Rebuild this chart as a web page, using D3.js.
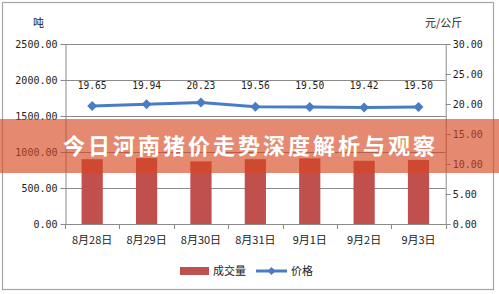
<!DOCTYPE html>
<html><head><meta charset="utf-8">
<script src="https://cdn.jsdelivr.net/npm/d3@7"></script>
<style>body{margin:0;background:#fff}svg{display:block}</style>
</head><body>
<svg id="c" width="499" height="294"></svg>
<script>
const categories = ["8月28日","8月29日","8月30日","8月31日","9月1日","9月2日","9月3日"];
const volume = [900, 915, 870, 900, 912, 878, 890];
const price = [19.65, 19.94, 20.23, 19.56, 19.50, 19.42, 19.50];
const leftTicks = [0, 500, 1000, 1500, 2000, 2500];
const rightTicks = [0, 5, 10, 15, 20, 25, 30];
const seriesNames = ["成交量", "价格"];
const unitLeft = "吨", unitRight = "元/公斤";
const bannerText = "今日河南猪价走势深度解析与观察";

const svg = d3.select("#c");
const L = 65, R = 445.7, T = 44, B = 224;
const numFont = "'DejaVu Sans Mono', monospace";
const cjkFont = "'Noto Sans CJK SC', sans-serif";
const gray = "#8a8a8a";

svg.append("rect").attr("x",2.5).attr("y",2.5).attr("width",491).attr("height",287)
  .attr("fill","#fff").attr("stroke","#a6a6a6").attr("stroke-width",1.2);

const x = d3.scaleBand().domain(categories).range([L,R]).padding(0);
const yL = d3.scaleLinear().domain([0,2500]).range([B,T]);
const yR = d3.scaleLinear().domain([0,30]).range([B,T]);

// gridlines
svg.append("g").selectAll("line").data(leftTicks).join("line")
  .attr("x1",L).attr("x2",R).attr("y1",d=>yL(d)+0.5).attr("y2",d=>yL(d)+0.5)
  .attr("stroke",gray).attr("stroke-width",1);

// bars
const bw = x.bandwidth()*0.39;
svg.append("g").selectAll("rect").data(volume).join("rect")
  .attr("x",(d,i)=>x(categories[i])+x.bandwidth()/2-bw/2)
  .attr("width",bw).attr("y",d=>yL(d)).attr("height",d=>B-yL(d))
  .attr("fill","#c0504d");

// left axis
const axL = svg.append("g").attr("transform",`translate(${L+0.5},0)`)
  .call(d3.axisLeft(yL).tickValues(leftTicks).tickFormat(d3.format(".2f")).tickSize(5).tickSizeOuter(0).tickPadding(3));
axR = svg.append("g").attr("transform",`translate(${R},0)`)
  .call(d3.axisRight(yR).tickValues(rightTicks).tickFormat(d3.format(".2f")).tickSize(5).tickSizeOuter(0).tickPadding(2));
[axL, axR].forEach(a=>{
  a.selectAll("path,line").attr("stroke",gray);
  a.selectAll("text").attr("font-family",numFont).attr("font-size","10px").attr("fill","#222");
});

// x axis
const gx = svg.append("g");
gx.append("line").attr("x1",L).attr("x2",R).attr("y1",B+0.5).attr("y2",B+0.5).attr("stroke",gray);
const bounds = categories.map(c=>x(c)).concat([R]);
gx.selectAll("line.t").data(bounds).join("line").attr("class","t")
  .attr("x1",d=>Math.round(d)+0.5).attr("x2",d=>Math.round(d)+0.5).attr("y1",B).attr("y2",B+5).attr("stroke",gray);
gx.selectAll("text").data(categories).join("text")
  .attr("x",d=>x(d)+x.bandwidth()/2).attr("y",243.5).attr("text-anchor","middle")
  .attr("font-family",cjkFont).attr("font-size","11px").attr("fill","#222").text(d=>d);

// price line
const cx = (d,i)=>x(categories[i])+x.bandwidth()/2;
svg.append("path").datum(price)
  .attr("d",d3.line().x(cx).y(d=>yR(d)))
  .attr("fill","none").attr("stroke","#4a7cc4").attr("stroke-width",3);
svg.append("g").selectAll("path").data(price).join("path")
  .attr("d","M0,-5L5,0L0,5L-5,0Z")
  .attr("transform",(d,i)=>`translate(${cx(d,i)},${yR(d)})`).attr("fill","#4a7cc4");
svg.append("g").selectAll("text").data(price).join("text")
  .attr("x",cx).attr("y",d=>89).attr("text-anchor","middle")
  .attr("font-family",numFont).attr("font-size","9.6px").attr("fill","#222")
  .text(d=>d.toFixed(2));

// units
svg.append("text").attr("x",33).attr("y",26.5).attr("font-family",cjkFont).attr("font-size","11px").attr("fill","#222").text(unitLeft);
svg.append("text").attr("x",425).attr("y",26.5).attr("font-family",cjkFont).attr("font-size","11px").attr("fill","#222").text(unitRight);

// legend
const lg = svg.append("g");
lg.append("rect").attr("x",180).attr("y",267).attr("width",29).attr("height",8).attr("fill","#c0504d");
lg.append("text").attr("x",213).attr("y",275).attr("font-family",cjkFont).attr("font-size","11px").attr("fill","#222").text(seriesNames[0]);
lg.append("line").attr("x1",256).attr("x2",287).attr("y1",271).attr("y2",271).attr("stroke","#4a7cc4").attr("stroke-width",3);
lg.append("path").attr("d","M0,-4L4,0L0,4L-4,0Z").attr("transform","translate(271.5,271)").attr("fill","#4a7cc4");
lg.append("text").attr("x",291).attr("y",275).attr("font-family",cjkFont).attr("font-size","11px").attr("fill","#222").text(seriesNames[1]);

// banner overlay
svg.append("rect").attr("x",0).attr("y",119).attr("width",499).attr("height",54)
  .attr("fill","rgb(214,69,30)").attr("fill-opacity",0.63);
svg.append("text").attr("x",63).attr("y",154).attr("textLength",372).attr("lengthAdjust","spacing")
  .attr("font-family",cjkFont).attr("font-weight","bold").attr("font-size","22px").attr("fill","#fff")
  .text(bannerText);
</script>
</body></html>
